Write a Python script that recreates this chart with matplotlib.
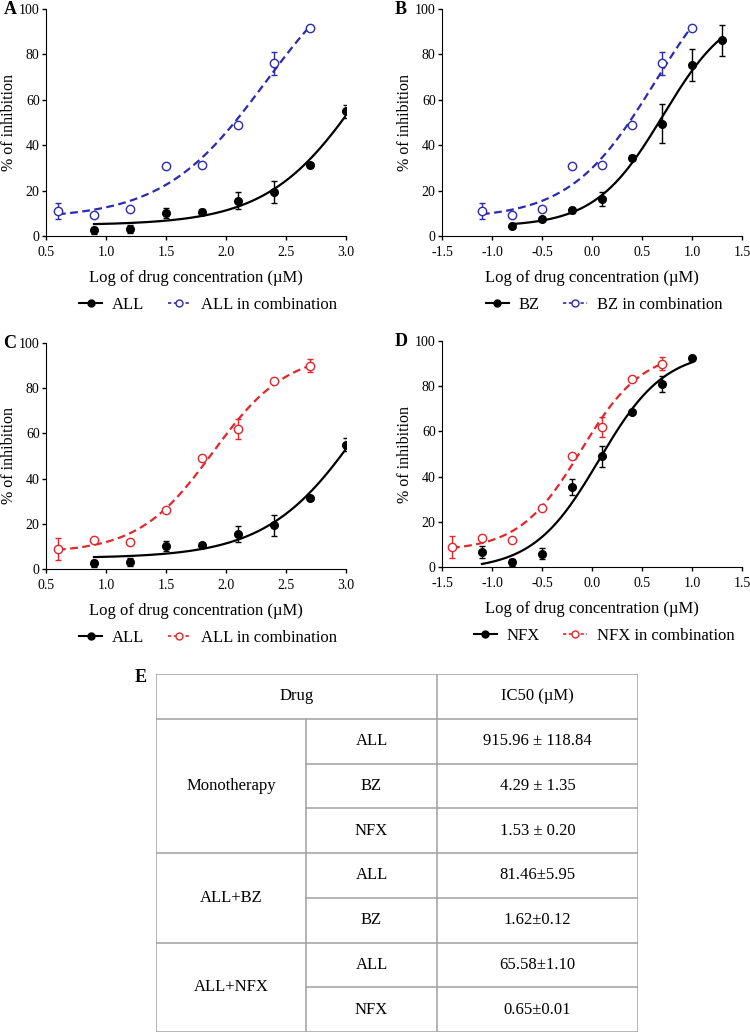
import numpy as np
import matplotlib as mpl
mpl.use('Agg')
from matplotlib import pyplot as plt
from matplotlib.lines import Line2D

plt.rcParams['font.family'] = ['Liberation Serif', 'DejaVu Serif']
plt.rcParams['axes.unicode_minus'] = False

BLUE = '#2b2bb0'
RED = '#e4262b'

# log of drug concentration (uM)
x_all = [0.9, 1.2, 1.5, 1.8, 2.1, 2.4, 2.7, 3.0]
x_all_comb = [0.6, 0.9, 1.2, 1.5, 1.8, 2.1, 2.4, 2.7]
x_bz = [-0.8, -0.5, -0.2, 0.1, 0.4, 0.7, 1.0, 1.3]
x_bz_comb = [-1.1, -0.8, -0.5, -0.2, 0.1, 0.4, 0.7, 1.0]
x_nfx = [-1.1, -0.8, -0.5, -0.2, 0.1, 0.4, 0.7, 1.0]
x_nfx_comb = [-1.4, -1.1, -0.8, -0.5, -0.2, 0.1, 0.4, 0.7]

# % of inhibition (mean, error)
all_mean = [2.5, 3.2, 10.0, 10.7, 15.5, 19.3, 31.3, 55.0]
all_err = [1.5, 1.8, 2.2, 1.0, 3.7, 4.8, 1.0, 2.9]
bz_mean = [4.5, 7.5, 11.3, 16.3, 34.5, 49.5, 75.2, 86.2]
bz_err = [0.5, 0.7, 1.0, 2.9, 1.0, 8.6, 7.1, 6.9]
nfx_mean = [6.8, 2.0, 5.8, 35.3, 49.0, 68.5, 81.0, 92.5]
nfx_err = [2.6, 1.5, 2.4, 3.5, 4.7, 1.0, 3.5, 1.0]
comb_bz_mean = [11.0, 9.3, 12.0, 30.8, 31.3, 49.0, 76.0, 91.5]
comb_bz_err = [3.6, 1.0, 0.0, 0.0, 0.0, 0.0, 5.0, 0.0]
comb_nfx_mean = [8.8, 13.0, 12.0, 26.3, 49.3, 62.0, 83.2, 90.0]
comb_nfx_err = [4.9, 1.0, 0.0, 1.0, 0.5, 4.4, 0.5, 3.0]

# table E
groups = ['Monotherapy', 'ALL+BZ', 'ALL+NFX']
group_drugs = [['ALL', 'BZ', 'NFX'], ['ALL', 'BZ'], ['ALL', 'NFX']]
ic50 = ['915.96 ± 118.84', '4.29 ± 1.35', '1.53 ± 0.20', '81.46±5.95',
        '1.62±0.12', '65.58±1.10', '0.65±0.01']


def fit_hill(x, y, tops=np.arange(90, 131, 2)):
    # 4PL least squares: grid over logIC50, hill, top; bottom solved directly
    x = np.asarray(x, float)
    y = np.asarray(y, float)
    L, H = np.meshgrid(np.arange(-3, 5, 0.01), np.arange(0.3, 4, 0.02), indexing='ij')
    s = 1 / (1 + 10 ** ((L[..., None] - x) * H[..., None]))
    r = 1 - s
    best = None
    for top in tops:
        bottom = ((y - top * s) * r).sum(-1) / (r * r).sum(-1)
        sse = ((bottom[..., None] * r + top * s - y) ** 2).sum(-1)
        i = np.unravel_index(sse.argmin(), sse.shape)
        if best is None or sse[i] < best[0]:
            best = (sse[i], bottom[i], top, L[i], H[i])
    return best[1:]


def curve(ax, x, y, **kw):
    b, t, logic, h = fit_hill(x, y)
    xs = np.linspace(min(x), max(x), 200)
    ax.plot(xs, b + (t - b) / (1 + 10 ** ((logic - xs) * h)), **kw)


def panel(pos, xa, ma, ea, xb, mb, eb, color, name, xlim):
    ax = fig.add_axes(pos)
    curve(ax, xa, ma, color='black', lw=1.6, zorder=2)
    curve(ax, xb, mb, color=color, lw=1.6, ls=(0, (3.5, 2)), zorder=2)
    ax.errorbar(xa, ma, yerr=ea, fmt='o', color='black', ms=5.5,
                elinewidth=1, capsize=2.5, capthick=1, zorder=3)
    ax.errorbar(xb, mb, yerr=eb, fmt='o', color=color, mfc='white', mec=color,
                mew=1, ms=6, elinewidth=1, capsize=2.5, capthick=1, zorder=4)
    ax.set_xlim(xlim)
    ax.set_ylim(0, 100)
    ax.set_xticks(np.arange(xlim[0], xlim[1] + 0.01, 0.5))
    ax.set_yticks(range(0, 101, 20))
    ax.spines[['top', 'right']].set_visible(False)
    ax.tick_params(direction='out', length=3, width=1, labelsize=10)
    ax.tick_params(axis='x', pad=4)
    ax.tick_params(axis='y', pad=1.5)
    ax.set_xlabel('Log of drug concentration (µM)', fontsize=12, labelpad=8)
    ax.set_ylabel('% of inhibition', fontsize=11.5)
    ax.yaxis.set_label_coords(-0.098, 0.5)
    handles = [Line2D([], [], color='black', marker='o', ms=5, lw=1.5),
               Line2D([], [], color=color, marker='o', mfc='white', ms=5, lw=1.2,
                      ls=(0, (2, 1.5)))]
    ax.legend(handles, [name, name + ' in combination'], loc='center',
              bbox_to_anchor=(0.54, -0.305), ncol=2, frameon=False, fontsize=12,
              handlelength=1.4, handletextpad=0.6, columnspacing=1.4)
    return ax


fig = plt.figure(figsize=(7.5, 10.33), dpi=100)

panel([0.0613, 0.7715, 0.4, 0.2198], x_all, all_mean, all_err,
      x_all_comb, comb_bz_mean, comb_bz_err, BLUE, 'ALL', (0.5, 3.0))
panel([0.5893, 0.7715, 0.4, 0.2198], x_bz, bz_mean, bz_err,
      x_bz_comb, comb_bz_mean, comb_bz_err, BLUE, 'BZ', (-1.5, 1.5))
panel([0.0613, 0.4492, 0.4, 0.2188], x_all, all_mean, all_err,
      x_all_comb, comb_nfx_mean, comb_nfx_err, RED, 'ALL', (0.5, 3.0))
panel([0.5893, 0.4511, 0.4, 0.2188], x_nfx, nfx_mean, nfx_err,
      x_nfx_comb, comb_nfx_mean, comb_nfx_err, RED, 'NFX', (-1.5, 1.5))

for letter, px, py in [('A', 10, 10), ('B', 401, 10), ('C', 10, 343),
                       ('D', 401, 342), ('E', 141, 677)]:
    fig.text(px / 750, 1 - py / 1033, letter, fontsize=13, fontweight='bold',
             ha='center', va='center')

# table E
tab = fig.add_axes([156 / 750, 1 / 1033, 482 / 750, 358 / 1033])
tab.set_xlim(0, 482)
tab.set_ylim(8, 0)
tab.axis('off')
col1, col2, right = 150, 281, 482
grid = dict(color='#a0a0a0', lw=1.1)
n_rows = 1 + sum(len(d) for d in group_drugs)
for xv in (0, col2, right):
    tab.plot([xv, xv], [0, n_rows], **grid)
tab.plot([col1, col1], [1, n_rows], **grid)
tab.plot([0, right], [0, 0], **grid)
tab.plot([0, right], [1, 1], **grid)
fs = 12
tab.text(col2 / 2, 0.5, 'Drug', ha='center', va='center', fontsize=fs)
tab.text((col2 + right) / 2, 0.5, 'IC50 (µM)', ha='center', va='center', fontsize=fs)
row = 1
k = 0
for g, drugs in zip(groups, group_drugs):
    tab.text(col1 / 2, row + len(drugs) / 2, g, ha='center', va='center', fontsize=fs)
    for j, d in enumerate(drugs):
        if j > 0:
            tab.plot([col1, right], [row + j, row + j], **grid)
        tab.text((col1 + col2) / 2, row + j + 0.5, d, ha='center', va='center', fontsize=fs)
        tab.text((col2 + right) / 2, row + j + 0.5, ic50[k], ha='center', va='center', fontsize=fs)
        k += 1
    row += len(drugs)
    tab.plot([0, right], [row, row], **grid)

fig.savefig('out.png', dpi=100)
